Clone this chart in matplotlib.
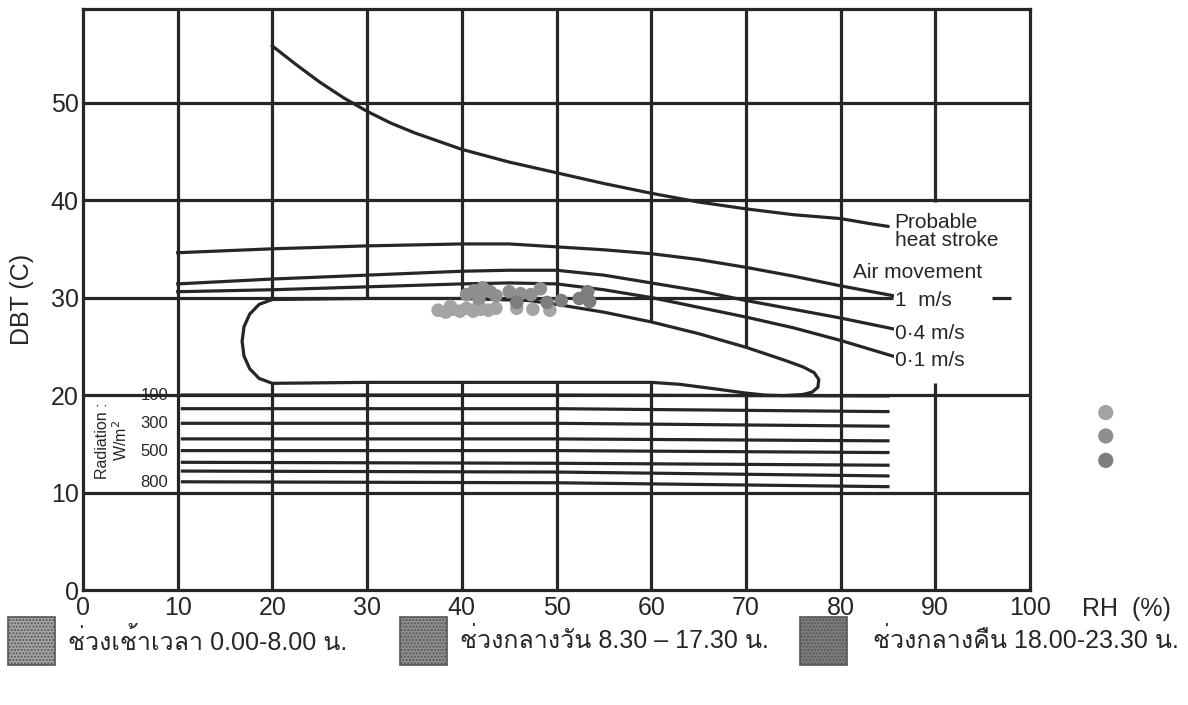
import matplotlib
matplotlib.use("Agg")
import matplotlib.pyplot as plt
from matplotlib import font_manager
from matplotlib.ft2font import FT2Font

# ---------------------------------------------------------------- data
rh_ticks = [0, 10, 20, 30, 40, 50, 60, 70, 80, 90, 100]
dbt_ticks = [0, 10, 20, 30, 40, 50]

# probable heat-stroke limit
heat_rh = [20, 22.5, 25, 27.5, 30, 32.5, 35, 40, 45, 50, 55, 60, 65, 70, 75, 80, 83, 85]
heat_dbt = [55.8, 53.9, 52.1, 50.5, 49.1, 47.9, 46.9, 45.2, 43.9, 42.8, 41.7, 40.7, 39.8,
            39.1, 38.5, 38.1, 37.6, 37.3]

# upper comfort limits with air movement
air_rh = [10, 20, 30, 40, 45, 50, 55, 60, 65, 70, 75, 80, 85.5]
air_1ms = [34.6, 35.0, 35.3, 35.5, 35.5, 35.2, 34.9, 34.5, 33.9, 33.1, 32.2, 31.2, 30.2]
air_04ms = [31.4, 31.9, 32.3, 32.7, 32.8, 32.8, 32.3, 31.5, 30.7, 29.7, 28.8, 27.9, 26.8]
air_01ms = [30.6, 30.8, 31.1, 31.4, 31.5, 31.4, 30.8, 30.0, 29.0, 28.0, 26.9, 25.6, 24.0]
air_labels = ["1  m/s", "0·4 m/s", "0·1 m/s"]

# comfort zone outline (closed)
comfort_rh = [20, 30, 40, 47, 50, 55, 60, 65, 70, 74, 76, 77.2, 77.7, 77.6, 77.0, 76.0, 74.0,
              72.0, 70.0, 67.0, 63.0, 60.0, 50.0, 40.0, 30.0, 20.0,
              18.6, 17.6, 17.0, 16.8, 17.0, 17.6, 18.6, 20]
comfort_dbt = [29.8, 29.9, 29.9, 29.7, 29.3, 28.5, 27.5, 26.3, 24.9, 23.6, 22.9, 22.3, 21.6, 20.8,
               20.3, 20.05, 19.95, 20.0, 20.2, 20.6, 21.1, 21.3, 21.3, 21.3, 21.3, 21.2,
               21.7, 22.7, 24.0, 25.5, 27.0, 28.3, 29.3, 29.8]

# solar radiation lines (W/m2): dbt at 10.5 %, 50 % and 85 % RH
rad_levels = [100, 200, 300, 400, 500, 600, 700, 800]
rad_rh = [10.5, 50, 85]
rad_dbt = [
    [20.0, 20.0, 19.9],
    [18.6, 18.6, 18.3],
    [17.1, 17.1, 16.8],
    [15.5, 15.5, 15.3],
    [14.3, 14.3, 14.1],
    [13.1, 13.0, 12.8],
    [12.2, 12.1, 11.7],
    [11.1, 11.0, 10.6],
]
rad_label_levels = [100, 300, 500, 800]

# measured conditions
morning_rh = [37.5, 38.3, 39.0, 39.8, 40.5, 41.2, 42.0, 42.8, 43.6, 38.8, 41.8, 45.8, 47.5, 49.3]
morning_dbt = [28.7, 28.5, 28.8, 28.6, 28.9, 28.6, 28.8, 28.7, 28.9, 29.1, 29.2, 28.9, 28.8, 28.7]
day_rh = [40.5, 41.3, 42.2, 43.0, 41.8, 43.6, 45.0, 46.2, 48.3, 47.3]
day_dbt = [30.3, 30.7, 31.0, 30.6, 29.9, 30.2, 30.6, 30.4, 30.9, 30.3]
night_rh = [50.5, 52.4, 53.3, 53.5, 49.0, 45.8]
night_dbt = [29.7, 29.9, 30.6, 29.6, 29.5, 29.5]

periods = ["ช่วงเช้าเวลา 0.00-8.00 น.",
           "ช่วงกลางวัน 8.30 – 17.30 น.",
           "ช่วงกลางคืน 18.00-23.30 น."]
period_colors = ["#a4a4a4", "#8f8f8f", "#7d7d7d"]


# ---------------------------------------------------------------- fonts
def family_with(char):
    for f in font_manager.fontManager.ttflist:
        try:
            if ord(char) in FT2Font(f.fname).get_charmap():
                return f.name
        except Exception:
            pass
    return "DejaVu Sans"


thai_family = family_with("ช")
plt.rcParams["font.family"] = ["Liberation Sans", "DejaVu Sans"]
label_fam = ["Liberation Sans", thai_family, "DejaVu Sans"]

INK = "#262626"
LW = 2.3

# ---------------------------------------------------------------- figure
fig = plt.figure(figsize=(11.88, 7.05), dpi=100)
ax = fig.add_axes([83 / 1188, 115 / 705, 947 / 1188, 581 / 705])
ytop = 59.6
ax.set_xlim(0, 100)
ax.set_ylim(0, ytop)

for s in ax.spines.values():
    s.set_linewidth(LW)
    s.set_color(INK)

# grid
for x in rh_ticks[1:-1]:
    if x == 90:
        ax.plot([x, x], [0, 21.2], color=INK, lw=LW, solid_capstyle="butt")
        ax.plot([x, x], [39.8, ytop], color=INK, lw=LW, solid_capstyle="butt")
    else:
        ax.plot([x, x], [0, ytop], color=INK, lw=LW, solid_capstyle="butt")
for y in dbt_ticks[1:]:
    if y == 30:
        ax.plot([0, 85.5], [y, y], color=INK, lw=LW, solid_capstyle="butt")
        ax.plot([96, 98], [y, y], color=INK, lw=LW, solid_capstyle="butt")
    else:
        ax.plot([0, 100], [y, y], color=INK, lw=LW, solid_capstyle="butt")

ax.set_xticks(rh_ticks)
ax.set_yticks(dbt_ticks)
ax.tick_params(length=0, labelsize=18, colors=INK)
ax.tick_params(axis="x", pad=4)
ax.tick_params(axis="y", pad=3)
ax.set_ylabel("DBT (C)", fontsize=18, color=INK, labelpad=12)
ax.text(105.5, -1.9, "RH  (%)", fontsize=18, color=INK, ha="left", va="center", clip_on=False)

# heat stroke
ax.plot(heat_rh, heat_dbt, color=INK, lw=LW)
ax.text(85.7, 37.7, "Probable", fontsize=15, color=INK, va="center")
ax.text(85.7, 35.9, "heat stroke", fontsize=15, color=INK, va="center")
ax.text(81.3, 32.6, "Air movement", fontsize=15, color=INK, va="center")

# air movement lines
for ys, lab in zip([air_1ms, air_04ms, air_01ms], air_labels):
    ax.plot(air_rh, ys, color=INK, lw=LW)
    ax.text(air_rh[-1] + 0.2, ys[-1] - 0.5, lab, fontsize=15, color=INK, va="center",
            bbox=dict(facecolor="white", edgecolor="none", pad=0.5))

# radiation lines
for lvl, ys in zip(rad_levels, rad_dbt):
    ax.plot(rad_rh, ys, color=INK, lw=LW)
    if lvl in rad_label_levels:
        ax.text(9.0, ys[0] - 0.05, str(lvl), fontsize=12, color=INK, ha="right", va="center")
ax.text(2.1, 15.3, "Radiation :", fontsize=11.5, color=INK, rotation=90, ha="center", va="center")
ax.text(4.0, 15.3, "W/m$^2$", fontsize=11.5, color=INK, rotation=90, ha="center", va="center")

# comfort zone
ax.fill(comfort_rh, comfort_dbt, facecolor="white", edgecolor=INK, lw=LW, zorder=3,
        joinstyle="round")

# observations
for rx, ry, c in zip([morning_rh, day_rh, night_rh], [morning_dbt, day_dbt, night_dbt], period_colors):
    ax.scatter(rx, ry, s=95, color=c, edgecolors="none", zorder=4)

# period markers to the right of the chart
ax.scatter([108.0, 108.0, 108.0], [18.2, 15.8, 13.3], s=120, color=period_colors,
           edgecolors="none", clip_on=False)

# legend row
sq_w, sq_h = 47 / 1188, 48 / 705
square_x = [8, 400, 800]
text_x = [68, 460, 873]
for lab, c, sx, tx in zip(periods, period_colors, square_x, text_x):
    fig.patches.append(plt.Rectangle((sx / 1188, 40 / 705), sq_w, sq_h, transform=fig.transFigure,
                                     facecolor=c, edgecolor="#555555", lw=1.2, hatch="....."))
    fig.text(tx / 1188, 64 / 705, lab, fontsize=18, color=INK, va="center", family=label_fam)

fig.savefig("out.png", dpi=100, facecolor="white")
